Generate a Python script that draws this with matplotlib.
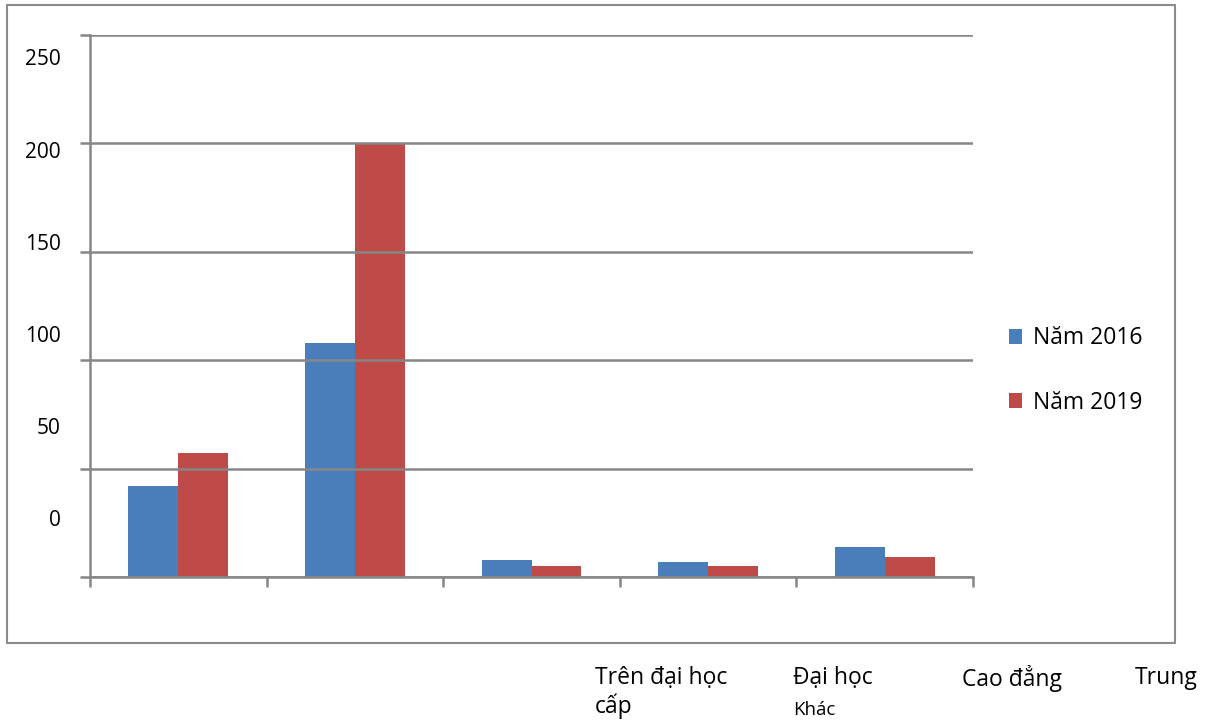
import numpy as np
import matplotlib.pyplot as plt
from matplotlib.patches import Rectangle

plt.rcParams['font.family'] = ['Open Sans', 'DejaVu Sans']

# data
categories = ['Trên đại học', 'Đại học', 'Cao đẳng', 'Trung cấp', 'Khác']
nam_2016 = [42, 108, 8, 7, 14]
nam_2019 = [57, 200, 5, 5, 9]
y_ticks = [0, 50, 100, 150, 200, 250]

W, H = 1212, 724
fig = plt.figure(figsize=(W / 100, H / 100), dpi=100)

# outer chart border
fig.patches.append(Rectangle((7 / W, (H - 643) / H), 1168 / W, 638 / H,
                             transform=fig.transFigure, fill=False,
                             edgecolor='#8c8c8c', linewidth=1.5))

ax = fig.add_axes([90 / W, (H - 577) / H, 883 / W, 542 / H])
x = np.arange(len(categories))
bw = 0.283
ax.bar(x - bw / 2, nam_2016, bw, color='#4A7EBB', label='Năm 2016', zorder=2)
ax.bar(x + bw / 2, nam_2019, bw, color='#BE4B48', label='Năm 2019', zorder=2)

ax.set_xlim(-0.5, len(categories) - 0.5)
ax.set_ylim(0, 250)
ax.set_yticks(y_ticks)
ax.set_yticklabels([])
ax.set_xticks(np.arange(len(categories) + 1) - 0.5)
ax.set_xticklabels([])
ax.grid(axis='y', color='#868686', linewidth=1.8, zorder=3)
ax.set_axisbelow(False)
ax.tick_params(axis='both', color='#868686', width=1.8, length=7)
for side in ['top', 'right']:
    ax.spines[side].set_visible(False)
for side in ['left', 'bottom']:
    ax.spines[side].set_color('#868686')
    ax.spines[side].set_linewidth(1.8)
    ax.spines[side].set_zorder(4)

# y labels sit offset from their gridlines, as in the original
for i, t in enumerate(y_ticks):
    ax.text(-0.033, 26 + i * 42.5, str(t), transform=ax.get_yaxis_transform(),
            ha='right', va='center', fontsize=15)

leg = ax.legend(loc='center left', bbox_to_anchor=(1.017, 0.381), frameon=False,
                fontsize=16.5, handlelength=0.6, handleheight=0.6,
                handletextpad=0.45, labelspacing=1.75)

# category labels, spilled below the frame
def ftext(px, py, s, size=16.5):
    fig.text(px / W, 1 - py / H, s, ha='left', va='center', fontsize=size)

ftext(595, 678, categories[0])
ftext(595, 706, categories[3].split()[1])
ftext(793, 678, categories[1])
ftext(793, 710, categories[4], size=13.5)
ftext(962, 678, categories[2])
ftext(1135, 678, categories[3].split()[0])

fig.savefig('out.png', dpi=100)
